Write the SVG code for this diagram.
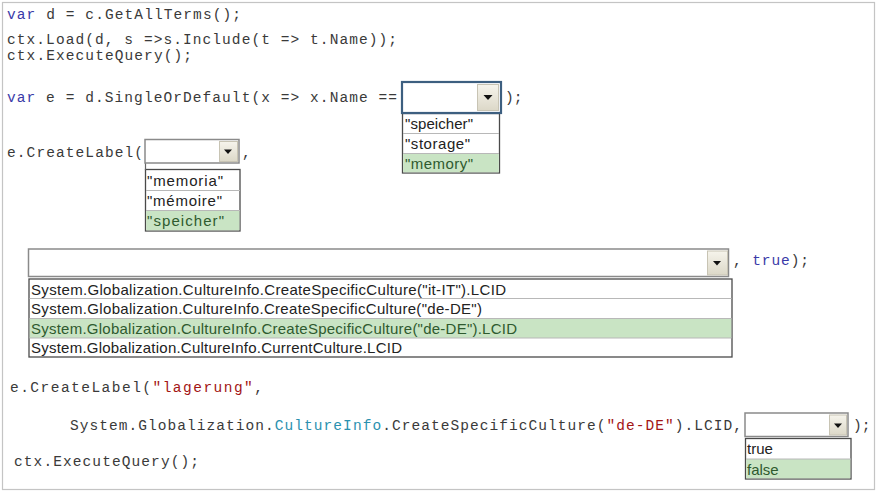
<svg xmlns="http://www.w3.org/2000/svg" width="878" height="493" viewBox="0 0 878 493">
<defs>
<linearGradient id="btn" x1="0" y1="0" x2="0" y2="1">
<stop offset="0" stop-color="#f6f4ec"/>
<stop offset="1" stop-color="#dcd8c8"/>
</linearGradient>
<style>
.code{font-family:"Liberation Mono","Courier New",monospace;font-size:14.5px;fill:#3a3a3a}
.kw{fill:#3a3aa8}
.str{fill:#a31515}
.typ{fill:#2b91af}
.item{font-family:"Liberation Sans",Arial,sans-serif;font-size:15px;fill:#222}
.sel{fill:#2f5a2f}
.box{fill:#fff;stroke:#8a8a8a;stroke-width:1.5}
.focus{fill:#fff;stroke:#3d5f80;stroke-width:2.2}
.btn{fill:url(#btn);stroke:#c8c4b4;stroke-width:1}
.arrow{fill:#111}
.list{fill:#fff;stroke:#4a4a4a;stroke-width:1.3}
.sep{stroke:#b8b8b8;stroke-width:1}
.hl{fill:#c9e4c4}
</style>
</defs>
<rect x="0" y="0" width="878" height="493" fill="#fff"/>
<rect x="2.5" y="2.5" width="872" height="487" fill="none" stroke="#c4c4c4" stroke-width="1.2"/>

<g id="line1"><text class="code" x="7" y="19" textLength="234"><tspan class="kw">var</tspan> d = c.GetAllTerms();</text></g>
<g id="line2"><text class="code" x="7" y="44" textLength="390">ctx.Load(d, s =&gt;s.Include(t =&gt; t.Name));</text></g>
<g id="line3"><text class="code" x="7" y="60" textLength="185">ctx.ExecuteQuery();</text></g>
<g id="line4"><text class="code" x="7" y="102" textLength="390"><tspan class="kw">var</tspan> e = d.SingleOrDefault(x =&gt; x.Name ==</text>
<text class="code" x="505" y="102">);</text></g>

<g id="dropdown1">
<rect class="list" x="402.5" y="113.5" width="97" height="59.5"/>
<line class="sep" x1="403" y1="133.5" x2="499" y2="133.5"/>
<rect class="hl" x="403.2" y="153.5" width="95.6" height="18.8"/>
<line class="sep" x1="403" y1="153.5" x2="499" y2="153.5"/>
<text class="item" x="405" y="129" textLength="68">"speicher"</text>
<text class="item" x="405" y="149" textLength="65">"storage"</text>
<text class="item sel" x="405" y="169" textLength="68">"memory"</text>
<rect class="focus" x="402" y="82" width="99" height="31"/>
<rect class="btn" x="477.5" y="84.5" width="21" height="26"/>
<path class="arrow" d="M483.5 95 h9 l-4.5 5 z"/>
</g>

<g id="line5"><text class="code" x="7" y="157" textLength="136">e.CreateLabel(</text>
<text class="code" x="242" y="157">,</text></g>

<g id="dropdown2">
<rect class="list" x="145.5" y="169.5" width="94.5" height="61.5"/>
<line class="sep" x1="146" y1="190.5" x2="240" y2="190.5"/>
<rect class="hl" x="146.2" y="210.5" width="93.2" height="19.8"/>
<line class="sep" x1="146" y1="210.5" x2="240" y2="210.5"/>
<text class="item" x="147" y="186" textLength="76">"memoria"</text>
<text class="item" x="147" y="206" textLength="75">"mémoire"</text>
<text class="item sel" x="147" y="226" textLength="77">"speicher"</text>
<line x1="145.5" y1="163" x2="145.5" y2="170" stroke="#666" stroke-width="1.2"/>
<rect class="box" x="145" y="139.5" width="94" height="23.5"/>
<rect class="btn" x="219.5" y="141.5" width="18" height="20"/>
<path class="arrow" d="M224 149.5 h8 l-4 4.5 z"/>
</g>

<g id="dropdown3">
<rect class="box" x="28.5" y="249" width="700" height="27.5"/>
<rect class="btn" x="707.5" y="251" width="20" height="24"/>
<path class="arrow" d="M713 261 h8 l-4 4.5 z"/>
<rect class="list" x="29" y="279" width="703" height="78"/>
<line class="sep" x1="29.5" y1="298.5" x2="731.5" y2="298.5"/>
<rect class="hl" x="29.7" y="318.5" width="701.6" height="19.5"/>
<line class="sep" x1="29.5" y1="318.5" x2="731.5" y2="318.5"/>
<line class="sep" x1="29.5" y1="338" x2="731.5" y2="338"/>
<text class="item" x="31" y="295" textLength="475">System.Globalization.CultureInfo.CreateSpecificCulture("it-IT").LCID</text>
<text class="item" x="31" y="314" textLength="451">System.Globalization.CultureInfo.CreateSpecificCulture("de-DE")</text>
<text class="item sel" x="31" y="334" textLength="486">System.Globalization.CultureInfo.CreateSpecificCulture("de-DE").LCID</text>
<text class="item" x="31" y="353" textLength="371">System.Globalization.CultureInfo.CurrentCulture.LCID</text>
</g>

<g id="line6"><text class="code" x="733" y="265" textLength="76">, <tspan class="kw">true</tspan>);</text></g>

<g id="line7"><text class="code" x="10" y="392" textLength="253">e.CreateLabel(<tspan class="str">"lagerung"</tspan>,</text></g>

<g id="line8"><text class="code" x="70" y="430" textLength="672">System.Globalization.<tspan class="typ">CultureInfo</tspan>.CreateSpecificCulture(<tspan class="str">"de-DE"</tspan>).LCID,</text>
<text class="code" x="853" y="430">);</text></g>

<g id="dropdown4">
<rect class="list" x="745.5" y="438.5" width="105.5" height="40.5"/>
<rect class="hl" x="746.2" y="459" width="104.1" height="19.3"/>
<line class="sep" x1="746" y1="459" x2="851" y2="459"/>
<text class="item" x="747" y="454">true</text>
<text class="item sel" x="747" y="475">false</text>
<rect class="box" x="745" y="413" width="103" height="23.5"/>
<rect class="btn" x="829.5" y="415" width="17" height="20"/>
<path class="arrow" d="M834 423.5 h8 l-4 4.5 z"/>
</g>

<g id="line9"><text class="code" x="14" y="466" textLength="185">ctx.ExecuteQuery();</text></g>
</svg>
